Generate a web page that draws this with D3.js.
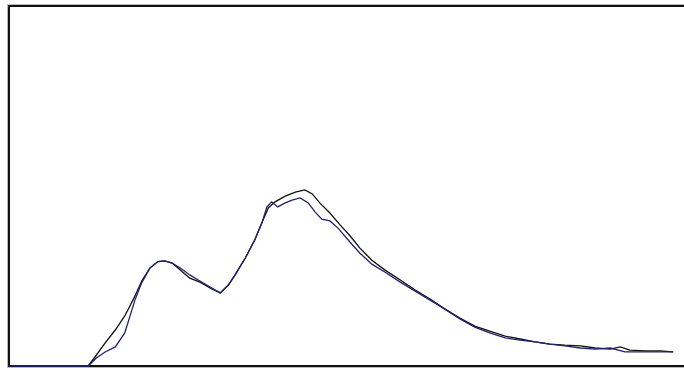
<!DOCTYPE html>
<html>
<head>
<meta charset="utf-8">
<script src="https://cdn.jsdelivr.net/npm/d3@7"></script>
<style>
  html, body { margin: 0; padding: 0; background: #fff; }
  svg { display: block; }
</style>
</head>
<body>
<svg id="chart" width="684" height="371"></svg>
<script>
// Channel positions (0–100) and relative counts (0–100) for the two spectra.
const channelsA = [0, 11.7, 12.9, 14.2, 15.7, 17.1, 18.6, 19.6, 20.8, 22.0, 23.0, 24.1, 25.3, 26.7, 28.2, 29.7, 31.2, 32.4, 33.4, 34.9, 36.3, 37.4, 38.1, 38.8, 39.7, 40.8, 41.8, 43.0, 44.2, 45.2, 46.2, 47.4, 48.6, 50.1, 51.8, 53.6, 55.5, 57.8, 60.0, 62.2, 64.4, 66.6, 68.8, 71.0, 73.3, 75.5, 77.7, 79.9, 82.1, 84.4, 86.6, 88.8, 91.0, 93.2, 95.4, 98.1];
const countsA   = [0, 0, 2.2, 3.9, 5.3, 9.2, 18.3, 23.1, 27.2, 29.0, 29.2, 28.6, 27.2, 25.3, 23.6, 21.9, 20.3, 22.5, 25.3, 30.0, 35.0, 40.0, 44.2, 45.6, 44.2, 45.3, 46.1, 46.7, 45.3, 42.8, 40.8, 40.3, 38.3, 35.0, 31.4, 28.3, 26.1, 23.3, 20.8, 18.3, 15.8, 13.1, 10.8, 9.2, 7.8, 7.2, 6.7, 6.1, 5.6, 5.0, 4.7, 5.0, 3.9, 3.9, 3.9, 3.9];

const channelsB = [0, 11.7, 12.7, 14.2, 15.7, 17.1, 18.6, 19.6, 20.8, 22.0, 23.0, 24.1, 25.3, 26.7, 28.2, 29.7, 31.2, 32.4, 33.4, 34.9, 36.3, 37.4, 38.3, 39.3, 40.8, 42.3, 43.7, 44.8, 45.9, 47.4, 48.9, 50.4, 51.8, 53.6, 55.5, 57.8, 60.0, 62.2, 64.4, 66.6, 68.8, 71.0, 73.3, 75.5, 77.7, 79.9, 82.1, 84.4, 86.6, 88.8, 90.3, 91.7, 94.0, 96.2, 98.1];
const countsB   = [0, 0, 2.5, 6.4, 10.0, 13.9, 19.4, 23.6, 27.2, 29.0, 29.2, 28.6, 26.7, 24.4, 23.3, 21.7, 20.3, 22.5, 25.3, 30.0, 35.0, 40.0, 43.9, 45.6, 47.2, 48.3, 48.9, 47.8, 45.3, 42.5, 39.2, 36.1, 32.8, 29.4, 26.7, 23.9, 21.1, 18.6, 15.8, 13.3, 11.1, 9.7, 8.3, 7.5, 6.7, 6.1, 5.8, 5.6, 5.0, 4.7, 5.3, 4.4, 4.2, 4.2, 3.9];

const svg = d3.select("#chart");
const plot = { left: 9, top: 6, right: 686, bottom: 366 };

const x = d3.scaleLinear().domain([0, 100]).range([plot.left, plot.right]);
const y = d3.scaleLinear().domain([0, 100]).range([plot.bottom, plot.top]);

// plot frame (runs past the right edge) with a faint grey shadow
const frameRight = 700;
svg.append("rect")
  .attr("x", plot.left - 1.5).attr("y", plot.top - 1.5)
  .attr("width", frameRight - plot.left + 3).attr("height", plot.bottom - plot.top + 3)
  .attr("fill", "none").attr("stroke", "#bbb").attr("stroke-width", 1);
svg.append("rect")
  .attr("x", plot.left).attr("y", plot.top)
  .attr("width", frameRight - plot.left).attr("height", plot.bottom - plot.top)
  .attr("fill", "#fff").attr("stroke", "#111").attr("stroke-width", 2);

const line = d3.line().x(d => x(d[0])).y(d => y(d[1]));

svg.append("path")
  .datum(d3.zip(channelsB, countsB))
  .attr("d", line)
  .attr("fill", "none").attr("stroke", "#111").attr("stroke-width", 1.3);

svg.append("path")
  .datum(d3.zip(channelsA, countsA))
  .attr("d", line)
  .attr("fill", "none").attr("stroke", "#22226e").attr("stroke-width", 1.3);
</script>
</body>
</html>
